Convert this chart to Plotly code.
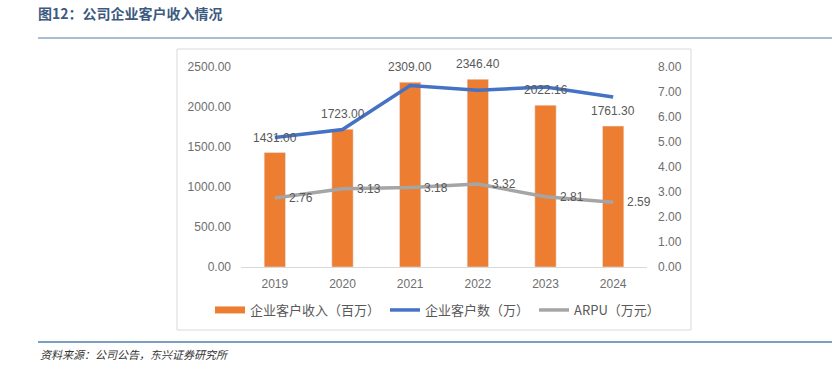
import plotly.graph_objects as go

years = ["2019", "2020", "2021", "2022", "2023", "2024"]
revenue = [1431.00, 1723.00, 2309.00, 2346.40, 2022.16, 1761.30]   # 企业客户收入（百万）
customers = [5.18, 5.50, 7.26, 7.07, 7.20, 6.80]                   # 企业客户数（万）
arpu = [2.76, 3.13, 3.18, 3.32, 2.81, 2.59]                        # ARPU（万元）
left_ticks = [0, 500, 1000, 1500, 2000, 2500]
right_ticks = [0, 1, 2, 3, 4, 5, 6, 7, 8]

W, H = 838, 369
L, R, T, B = 241, 647, 67, 267  # plot area in px

def px(x):
    return (x - L) / (R - L)

def py(y):
    return (B - y) / (B - T)

FONT = "Liberation Sans, Arial, Noto Sans CJK SC, sans-serif"
CJK = "Noto Sans CJK SC, sans-serif"
ORANGE = "#ed7d31"
BLUE = "#4472c4"
GRAY = "#a5a5a5"

fig = go.Figure()
fig.add_trace(go.Bar(x=years, y=revenue, marker_color=ORANGE, width=0.315,
                     name="企业客户收入（百万）", showlegend=False, yaxis="y"))
# legend stand-in for the bar series (wide flat swatch)
fig.add_trace(go.Scatter(x=[years[0]], y=[None], mode="lines", line=dict(color=ORANGE, width=7),
                         name="企业客户收入（百万）", yaxis="y"))
fig.add_trace(go.Scatter(x=years, y=customers, mode="lines", line=dict(color=BLUE, width=3.5),
                         name="企业客户数（万）", yaxis="y2"))
fig.add_trace(go.Scatter(x=years, y=arpu, mode="lines", line=dict(color=GRAY, width=3.5),
                         name="ARPU（万元）", yaxis="y2"))

ann = []
for i, v in enumerate(revenue):
    ann.append(dict(x=i, y=v, xref="x", yref="y", text=f"{v:.2f}", showarrow=False,
                    yanchor="middle", yshift=15, font=dict(size=12, color="#595959", family=FONT)))
for i, v in enumerate(arpu):
    ann.append(dict(x=i, y=v, xref="x", yref="y2", text=f"{v:.2f}", showarrow=False,
                    xanchor="left", xshift=12, yanchor="middle",
                    font=dict(size=12, color="#595959", family=FONT)))
ann.append(dict(x=px(38), y=py(354), xref="paper", yref="paper", xanchor="left", yanchor="middle",
                text="<i>资料来源：公司公告，东兴证券研究所</i>", showarrow=False,
                font=dict(size=11, color="#333333", family=CJK)))

shapes = [
    dict(type="line", xref="paper", yref="paper", x0=px(38), x1=px(832), y0=py(38), y1=py(38),
         line=dict(color="#8ea9c4", width=1.5)),
    dict(type="line", xref="paper", yref="paper", x0=px(38), x1=px(832), y0=py(342), y1=py(342),
         line=dict(color="#4f7fae", width=1.5)),
    dict(type="rect", xref="paper", yref="paper", x0=px(177), x1=px(691), y0=py(330), y1=py(49),
         line=dict(color="#d9d9d9", width=1), layer="below"),
]

fig.update_layout(
    width=W, height=H,
    margin=dict(l=L, r=W - R, t=T, b=H - B, pad=0),
    paper_bgcolor="white", plot_bgcolor="white",
    font=dict(family=FONT, size=12, color="#6e6e6e"),
    title=dict(text="<b>图12：公司企业客户收入情况</b>", x=38 / W, xanchor="left",
               xref="container", y=1 - 14 / H, yanchor="middle", yref="container",
               font=dict(size=14, color="#3d5a80", family=CJK)),
    xaxis=dict(type="category", categoryorder="array", categoryarray=years,
               range=[-0.5, len(years) - 0.5],
               showgrid=False, showline=True, linecolor="#d9d9d9", linewidth=1,
               ticks="", tickfont=dict(size=12, color="#6e6e6e"), ticklabelstandoff=6),
    yaxis=dict(range=[0, 2500], tickvals=left_ticks, ticktext=[f"{v:.2f}" for v in left_ticks],
               showgrid=False, zeroline=False, showline=False, ticks="", ticklabelstandoff=9),
    yaxis2=dict(range=[0, 8], tickvals=right_ticks, ticktext=[f"{v:.2f}" for v in right_ticks],
                overlaying="y", side="right", showgrid=False, zeroline=False, showline=False,
                ticks="", ticklabelstandoff=10),
    legend=dict(orientation="h", x=px(210), xanchor="left", y=py(310), yanchor="middle",
                font=dict(size=13, color="#595959", family=CJK), itemwidth=30,
                bgcolor="rgba(0,0,0,0)"),
    annotations=ann,
    shapes=shapes,
)

# remove the browser's default 8px page margin so the figure fills the window
fig.write_html("out.html", config={"displayModeBar": False},
               post_script="document.body.style.margin='0';")
